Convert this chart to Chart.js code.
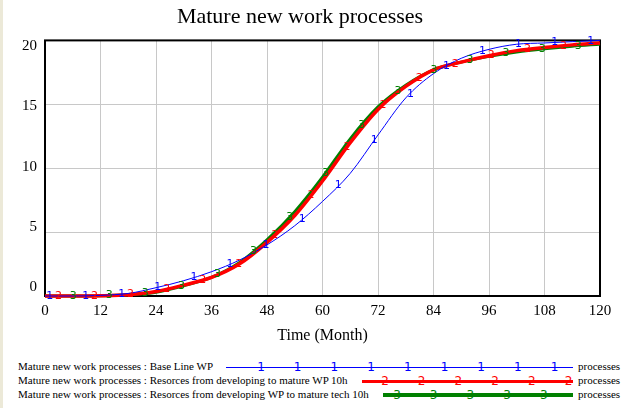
<!DOCTYPE html>
<html>
<head>
<meta charset="utf-8">
<script src="https://cdn.jsdelivr.net/npm/chart.js@4/dist/chart.umd.min.js"></script>
<style>
  html, body { margin: 0; padding: 0; background: #fff; }
  #wrap { position: relative; width: 631px; height: 408px; overflow: hidden; background: #fff; }
  #edge { position: absolute; left: 0; top: 0; width: 3px; height: 408px; background: #ece9d8; }
  #chart { position: absolute; left: 0; top: 0; }
  .row { position: absolute; left: 0; width: 631px; height: 14px; line-height: 14px;
         font: 11px "Liberation Serif", serif; color: #000; white-space: nowrap; }
  .row .lbl { position: absolute; left: 18px; top: 0; }
  .row .unit { position: absolute; left: 578px; top: 0; }
  .row .ln { position: absolute; }
  .row .mk { position: absolute; top: 0; width: 10px; margin-left: -5px; text-align: center;
             font: 12px "DejaVu Sans", sans-serif; line-height: 14px; }
</style>
</head>
<body>
<div id="wrap">
  <div id="edge"></div>
  <canvas id="chart" width="631" height="345"></canvas>
  <div id="legend"></div>
</div>
<script>
// Data (tiap 6 bulan)
const months = [0, 6, 12, 18, 24, 30, 36, 42, 48, 54, 60, 66, 72, 78, 84, 90, 96, 102, 108, 114, 120];
const baseLineWP = [0, 0, 0.05, 0.2, 0.65, 1.2, 1.9, 2.8, 4.0, 5.5, 7.4, 9.6, 12.6, 15.5, 17.4, 18.6, 19.3, 19.7, 19.8, 19.9, 20.0];
const resToMatureWP = [0, 0, 0.02, 0.1, 0.35, 0.85, 1.45, 2.5, 4.2, 6.3, 9.0, 12.0, 14.6, 16.4, 17.7, 18.3, 18.8, 19.2, 19.45, 19.65, 19.8];
const resToMatureTech = [0, 0, 0.02, 0.1, 0.3, 0.8, 1.45, 2.6, 4.4, 6.6, 9.3, 12.3, 14.8, 16.5, 17.7, 18.3, 18.75, 19.1, 19.35, 19.55, 19.7];
const yTickLabels = [0, 5, 10, 15, 20];

const seriesNames = [
  "Mature new work processes : Base Line WP",
  "Mature new work processes : Resorces from developing to mature WP 10h",
  "Mature new work processes : Resorces from developing WP to mature tech 10h"
];
const seriesValues = [baseLineWP, resToMatureWP, resToMatureTech];
const unitLabel = "processes";

// Gaya tiap seri
const styles = [
  { color: "#0000ff", width: 1, digit: "1", markStart: 1.0, legStart: 226, legThick: 1, legMark0: 261 },
  { color: "#ff0000", width: 3.5, digit: "2", markStart: 2.9, legStart: 362, legThick: 3, legMark0: 385 },
  { color: "#008000", width: 3, digit: "3", markStart: 6.1, legStart: 383, legThick: 4, legMark0: 397 }
];
const markStep = 7.8;

function interp(xs, ys, t) {
  for (let i = 0; i < xs.length - 1; i++) {
    if (t >= xs[i] && t <= xs[i + 1]) {
      const f = (t - xs[i]) / (xs[i + 1] - xs[i]);
      return ys[i] + f * (ys[i + 1] - ys[i]);
    }
  }
  return ys[ys.length - 1];
}

// Angka penanda di sepanjang garis
const digitPlugin = {
  id: "digits",
  afterDatasetsDraw(chart) {
    const { ctx, scales: { x, y } } = chart;
    ctx.save();
    ctx.font = '11px "DejaVu Sans", sans-serif';
    ctx.textAlign = "center";
    ctx.textBaseline = "middle";
    seriesValues.forEach((vals, si) => {
      const s = styles[si];
      ctx.fillStyle = s.color;
      for (let t = s.markStart; t <= 119; t += markStep) {
        const v = interp(months, vals, t);
        ctx.fillText(s.digit, x.getPixelForValue(t), y.getPixelForValue(v));
      }
    });
    ctx.restore();
  }
};

// Bingkai hitam di sekeliling area plot
const framePlugin = {
  id: "frame",
  beforeDatasetsDraw(chart) {
    const a = chart.chartArea;
    const ctx = chart.ctx;
    ctx.save();
    ctx.strokeStyle = "#000";
    ctx.lineWidth = 2;
    ctx.strokeRect(a.left, a.top, a.right - a.left, a.bottom - a.top);
    ctx.restore();
  }
};

const datasets = seriesValues.map((vals, i) => ({
  label: seriesNames[i],
  data: months.map((m, j) => ({ x: m, y: vals[j] })),
  borderColor: styles[i].color,
  borderWidth: styles[i].width,
  pointRadius: 0,
  cubicInterpolationMode: "monotone",
  fill: false
}));

const serif = "Liberation Serif";

new Chart(document.getElementById("chart").getContext("2d"), {
  type: "line",
  data: { datasets: datasets },
  plugins: [framePlugin, digitPlugin],
  options: {
    responsive: false,
    animation: false,
    clip: false,
    layout: { padding: { left: 0, right: 31, top: 0, bottom: 0 } },
    plugins: {
      legend: { display: false },
      tooltip: { enabled: false },
      title: {
        display: true,
        text: "Mature new work processes",
        color: "#000",
        font: { family: serif, size: 22, weight: "normal" },
        padding: { top: 4, bottom: 10 }
      }
    },
    scales: {
      x: {
        type: "linear",
        min: 0, max: 120,
        afterFit(scale) { scale.height = 49; },
        ticks: { stepSize: 12, color: "#000", padding: 6,
                 font: { family: serif, size: 15 } },
        grid: { color: "#c8c8c8", drawTicks: false },
        border: { display: false },
        title: { display: true, text: "Time (Month)", color: "#000", padding: { top: 0, bottom: 0 },
                 font: { family: serif, size: 16 } }
      },
      y: {
        min: 0, max: 20,
        afterFit(scale) { scale.width = 0; },
        ticks: { stepSize: 5, display: false },
        grid: { color: "#c8c8c8", drawTicks: false },
        border: { display: false }
      },
      // Sumbu label: label Vensim sedikit bergeser ke dalam
      yLab: {
        position: "left",
        min: -0.75, max: 20.5,
        afterFit(scale) { scale.width = 45; },
        afterBuildTicks(scale) { scale.ticks = yTickLabels.map(v => ({ value: v })); },
        ticks: { color: "#000", padding: 8, font: { family: serif, size: 15 } },
        grid: { display: false, drawTicks: false },
        border: { display: false }
      }
    }
  }
});

// Legenda di bawah grafik
const legend = document.getElementById("legend");
const rowCenters = [367, 381, 395];
const legEnd = 573;
seriesNames.forEach((name, i) => {
  const s = styles[i];
  const row = document.createElement("div");
  row.className = "row";
  row.style.top = (rowCenters[i] - 7) + "px";
  let html = `<span class="lbl">${name}</span>`;
  html += `<div class="ln" style="left:${s.legStart}px;width:${legEnd - s.legStart}px;top:${7 - s.legThick / 2}px;height:${s.legThick}px;background:${s.color}"></div>`;
  for (let x = s.legMark0; x < legEnd; x += 36.7) {
    html += `<span class="mk" style="left:${x}px;color:${s.color}">${s.digit}</span>`;
  }
  html += `<span class="unit">${unitLabel}</span>`;
  row.innerHTML = html;
  legend.appendChild(row);
});
</script>
</body>
</html>
